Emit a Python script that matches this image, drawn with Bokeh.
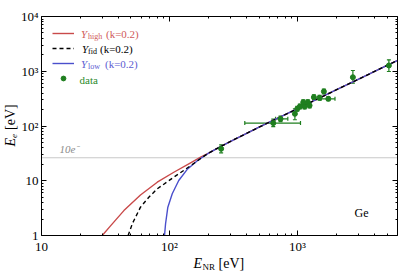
import math
from bokeh.plotting import figure
from bokeh.models import (LogAxis, FixedTicker, Label, Whisker, ColumnDataSource, Range1d,
                          Legend, LegendItem, TeeHead, CustomJSTickFormatter)
from bokeh.embed import file_html
from bokeh.resources import INLINE

# ---------------- data ----------------
x_ticks = [10, 100, 1000]
x_tick_labels = ["10", "10²", "10³"]
y_ticks = [1, 10, 100, 1000, 10000]
y_tick_labels = ["1", "10", "10²", "10³", "10⁴"]

high_E = [29.8, 34.6, 44.0, 59.3, 80.2, 108, 146, 175, 200, 250, 300, 400, 500, 700,
          1000, 1500, 2000, 3000, 4000, 5000, 6000]
high_Ee = [1.0, 1.5, 2.85, 5.5, 9.41, 14.3, 21.3, 27.0, 31.5, 42.0, 52.5, 73.5, 95, 139,
           208, 329, 455, 718, 994, 1279, 1571]

fid_E = [47.5, 51.2, 59.3, 68.9, 80.2, 108, 146, 175, 200, 250, 300, 400, 500, 700,
         1000, 1500, 2000, 3000, 4000, 5000, 6000]
fid_Ee = [1.0, 1.64, 3.29, 5.01, 7.13, 11.6, 18.8, 25.5, 31.5, 42.0, 52.5, 73.5, 95, 139,
          208, 329, 455, 718, 994, 1279, 1571]

low_E = [91.4, 93.1, 97.0, 105, 118, 137, 164, 200, 250, 300, 400, 500, 700,
         1000, 1500, 2000, 3000, 4000, 5000, 6000]
low_Ee = [1.0, 1.64, 3.29, 5.78, 10.1, 16.0, 23.0, 31.5, 42.0, 52.5, 73.5, 95, 139,
          208, 329, 455, 718, 994, 1279, 1571]

data_E = [253, 646, 736, 953, 995, 1042, 1108, 1135, 1203, 1241, 1341, 1486, 1605, 1738, 2704, 5167]
data_Ee = [38.4, 113, 135, 167, 206, 227, 272, 227, 272, 237, 336, 327, 427, 314, 778, 1274]
data_Ee_lo = [32.4, 97, 120, 130, 186, 205, 246, 205, 246, 214, 304, 296, 386, 290, 605, 989]
data_Ee_hi = [45.4, 133, 152, 206, 228, 251, 301, 251, 301, 262, 372, 362, 472, 340, 1032, 1619]
data_E_lo = [253, 387, 673, 953, 995, 1042, 1108, 1135, 1203, 1241, 1341, 1486, 1605, 1520, 2704, 5167]
data_E_hi = [253, 1054, 839, 953, 995, 1042, 1108, 1135, 1203, 1241, 1341, 1486, 1605, 1960, 2704, 5167]

threshold_Ee = 26.3
x_box = (10, 6000)
y_box = (1, 10000)

# ---------------- layout (pixel box of the axes inside the 399x274 canvas) ----------------
W, H = 399, 274
BOX_L, BOX_R, BOX_T, BOX_B = 41, 396.7, 16, 235
dx = math.log10(x_box[1] / x_box[0]) / (BOX_R - BOX_L)
dy = math.log10(y_box[1] / y_box[0]) / (BOX_B - BOX_T)
x_rng = Range1d(x_box[0] * 10 ** (-BOX_L * dx), x_box[1] * 10 ** ((W - BOX_R) * dx))
y_rng = Range1d(y_box[0] * 10 ** (-(H - BOX_B) * dy), y_box[1] * 10 ** (BOX_T * dy))

RED = "#c94a4a"
BLUE = "#4a4fcc"
GREEN = "#1f7f1f"
FONT = "Liberation Serif"

p = figure(width=W, height=H, x_axis_type="log", y_axis_type="log",
           x_range=x_rng, y_range=y_rng, output_backend="svg",
           toolbar_location=None, tools="", x_axis_location=None, y_axis_location=None,
           min_border_left=0, min_border_right=0, min_border_top=0, min_border_bottom=0)
p.xgrid.visible = False
p.ygrid.visible = False
p.outline_line_color = None
p.background_fill_color = "white"
p.border_fill_color = "white"

minor_x = [m * d for d in [10, 100, 1000] for m in range(2, 10)]
minor_y = [m * d for d in [1, 10, 100, 1000] for m in range(2, 10)]

fmt_x = CustomJSTickFormatter(args=dict(vals=x_ticks, labs=x_tick_labels), code="""
const i = vals.findIndex(v => Math.abs(v - tick) < 1e-6 * v);
return i >= 0 ? labs[i] : '';""")
fmt_y = CustomJSTickFormatter(args=dict(vals=y_ticks, labs=y_tick_labels), code="""
const i = vals.findIndex(v => Math.abs(v - tick) < 1e-6 * v);
return i >= 0 ? labs[i] : '';""")
fmt_none = CustomJSTickFormatter(code="return '';")


def make_axis(ticks, minor, fmt, show, loc, bounds):
    ax = LogAxis(fixed_location=loc, bounds=bounds)
    ax.ticker = FixedTicker(ticks=ticks, minor_ticks=minor)
    ax.formatter = fmt
    ax.major_tick_in = 5
    ax.major_tick_out = 0
    ax.minor_tick_in = 2
    ax.minor_tick_out = 0
    ax.axis_line_color = "black"
    ax.axis_line_width = 1
    ax.major_tick_line_color = "black"
    ax.minor_tick_line_color = "black"
    ax.major_label_text_font = FONT
    ax.major_label_text_color = "black"
    if show:
        ax.major_label_text_font_size = "13px"
        ax.major_label_standoff = 3
    else:
        ax.major_label_text_font_size = "0px"
        ax.major_label_standoff = 0
    ax.axis_label = None
    return ax


p.add_layout(make_axis(x_ticks, minor_x, fmt_x, True, y_box[0], x_box), "below")
p.add_layout(make_axis(y_ticks, minor_y, fmt_y, True, x_box[0], y_box), "left")
p.add_layout(make_axis(x_ticks, minor_x, fmt_none, False, y_box[1], x_box), "above")
p.add_layout(make_axis(y_ticks, minor_y, fmt_none, False, x_box[1], y_box), "right")

# threshold line across the axes box
p.segment(x0=[x_box[0]], x1=[x_box[1]], y0=[threshold_Ee], y1=[threshold_Ee],
          line_color="#c8c8c8", line_width=1)

# curves
r_high = p.line(high_E, high_Ee, line_color=RED, line_width=1.4)
r_low = p.line(low_E, low_Ee, line_color=BLUE, line_width=1.4)
r_fid = p.line(fid_E, fid_Ee, line_color="black", line_width=1.4, line_dash="4 3")

# data with error bars
ysrc = ColumnDataSource(dict(x=data_E, y=data_Ee, lo=data_Ee_lo, hi=data_Ee_hi))
p.add_layout(Whisker(source=ysrc, base="x", lower="lo", upper="hi", dimension="height",
                     line_color=GREEN, line_width=1.2,
                     upper_head=TeeHead(size=4, line_color=GREEN, line_width=1.2),
                     lower_head=TeeHead(size=4, line_color=GREEN, line_width=1.2)))
xi = [i for i in range(len(data_E)) if data_E_lo[i] != data_E_hi[i]]
xsrc = ColumnDataSource(dict(y=[data_Ee[i] for i in xi], lo=[data_E_lo[i] for i in xi],
                             hi=[data_E_hi[i] for i in xi]))
p.add_layout(Whisker(source=xsrc, base="y", lower="lo", upper="hi", dimension="width",
                     line_color=GREEN, line_width=1.2,
                     upper_head=TeeHead(size=4, line_color=GREEN, line_width=1.2),
                     lower_head=TeeHead(size=4, line_color=GREEN, line_width=1.2)))
r_pts = p.scatter(data_E, data_Ee, size=5, color=GREEN)
r_leg_bar = p.line(x=[], y=[], line_color=GREEN, line_width=1.2)

# legend (glyph samples), texts as separate labels
PAD, GH, SP, N = 11, 12, 3, 4
leg_h = 2 * PAD + N * GH + (N - 1) * SP
legend = Legend(items=[LegendItem(label=" ", renderers=[r_high]),
                       LegendItem(label=" ", renderers=[r_fid]),
                       LegendItem(label=" ", renderers=[r_low]),
                       LegendItem(label=" ", renderers=[r_leg_bar, r_pts])],
                location=(BOX_L, H - BOX_T - leg_h), margin=0, padding=PAD, spacing=SP,
                glyph_width=22, glyph_height=GH, label_height=GH, label_width=0,
                label_standoff=0, label_text_font_size="1px",
                border_line_alpha=0, background_fill_alpha=0)
p.add_layout(legend)


def lab(text, px, py, size, color="black", style="normal", angle=0.0):
    p.add_layout(Label(x=px, y=H - py, x_units="screen", y_units="screen", text=text,
                       text_font=FONT, text_font_size=size, text_font_style=style,
                       text_color=color, text_baseline="middle", text_align="left",
                       angle=angle))


RED_T = "#cf5a5a"
BLUE_T = "#5c5cd2"
GREEN_T = "#2a8a2a"
# legend texts
lab("Y", 80.5, 33, "11px", RED_T, "italic")
lab("high", 87.5, 35.5, "8px", RED_T)
lab("(k=0.2)", 105.5, 33, "11px", RED_T)
lab("Y", 81.5, 48.5, "11px", "black", "italic")
lab("fid", 87.5, 51, "8px", "black")
lab("(k=0.2)", 99.5, 48.5, "11px", "black")
lab("Y", 80.5, 63.5, "11px", BLUE_T, "italic")
lab("low", 87.5, 66, "8px", BLUE_T)
lab("(k=0.2)", 104.5, 63.5, "11px", BLUE_T)
lab("data", 79, 79, "11px", GREEN_T)

# annotations
lab("10e⁻", 59, 148.5, "11px", "#8a8a8a", "italic")
lab("Ge", 354, 212.5, "12px", "black")

# x axis label
lab("E", 193, 263, "14px", "black", "italic")
lab("NR", 202, 266, "9px", "black")
lab("[eV]", 218, 263, "14px", "black")
# y axis label (rotated)
lab("E", 10, 146, "14px", "black", "italic", 1.5708)
lab("e", 13, 137.5, "9px", "black", "italic", 1.5708)
lab("[eV]", 10, 129.5, "14px", "black", "normal", 1.5708)

open("out.html", "w").write(file_html(p, INLINE))
